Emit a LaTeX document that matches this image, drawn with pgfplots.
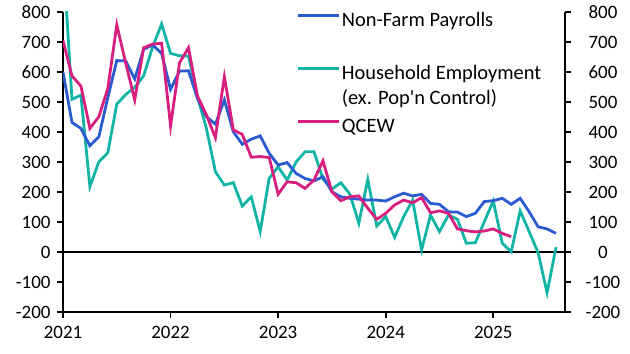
\documentclass[border=0pt]{standalone}
\usepackage{fontspec}
\setmainfont{Carlito}[Ligatures=TeXOff]
\usepackage{pgfplots}
\pgfplotsset{compat=1.18}
\usepackage{pgfplotstable}
\definecolor{nfp}{HTML}{2B5BD0}
\definecolor{hh}{HTML}{12B5A5}
\definecolor{qcew}{HTML}{D81E7E}

\pgfplotstableread{
m v
0 600
1 432
2 412
3 354
4 384
5 515
6 638
7 637
8 577
9 676
10 690
11 662
12 542
13 603
14 604
15 512
16 451
17 426
18 507
19 401
20 359
21 376
22 387
23 329
24 290
25 298
26 262
27 245
28 237
29 251
30 201
31 184
32 179
33 176
34 173
35 173
36 170
37 184
38 196
39 187
40 192
41 162
42 159
43 134
44 133
45 118
46 129
47 168
48 171
49 179
50 159
51 179
52 134
53 84
54 77
55 62
}\nfptab

\pgfplotstableread{
m v
0 1000
1 509
2 523
3 218
4 301
5 331
6 493
7 525
8 549
9 587
10 684
11 760
12 662
13 654
14 653
15 518
16 412
17 268
18 223
19 231
20 153
21 184
22 68
23 246
24 284
25 240
26 300
27 334
28 334
29 243
30 210
31 231
32 193
33 96
34 242
35 87
36 118
37 49
38 118
39 173
40 7
41 123
42 68
43 123
44 109
45 29
46 31
47 101
48 170
49 29
50 1
51 137
52 68
53 -2
54 -136
55 16
}\hhtab

\pgfplotstableread{
m v
0 705
1 587
2 553
3 412
4 451
5 545
6 757
7 629
8 507
9 681
10 693
11 696
12 420
13 631
14 681
15 520
16 457
17 381
18 584
19 407
20 392
21 316
22 318
23 315
24 193
25 234
26 231
27 212
28 240
29 304
30 201
31 171
32 184
33 187
34 146
35 109
36 129
37 157
38 173
39 164
40 181
41 131
42 137
43 129
44 77
45 71
46 67
47 70
48 77
49 62
50 51
}\qcewtab

\begin{document}
\begin{tikzpicture}[font=\fontsize{19}{23}\selectfont]
\path[use as bounding box] (-63bp,-42bp) rectangle (567bp,312bp);
\pgfplotsset{
  common/.style={
    at={(0,0)}, anchor=south west,
    scale only axis, width=502bp, height=300bp,
    xmin=0, xmax=56, ymin=-200, ymax=800,
    ytick={-200,-100,...,800},
    tick align=outside, major tick length=6bp,
    every tick/.style={black, line width=1.6bp},
    axis line style={black, line width=2bp},
    /pgf/number format/assume math mode=true,
    ticklabel style={font=\fontsize{19}{23}\selectfont},
  }
}
\begin{axis}[common,
  axis x line*=bottom, axis y line*=left,
  xtick={0,12,24,36,48},
  xticklabels={2021,2022,2023,2024,2025},
  xticklabel style={yshift=-5bp},
  yticklabel style={xshift=-3bp},
  legend cell align=left,
  legend style={draw=none, fill=none, at={(0.464,1)}, anchor=north west,
    inner sep=0pt, row sep=34bp, column sep=2bp,
    font=\fontsize{20.5}{25}\selectfont,
    nodes={inner sep=0pt, text height=14bp, text depth=5bp}},
  legend image code/.code={\draw[#1, line width=2.8bp] (0bp,6bp) -- (41bp,6bp);},
]
\addplot[black, line width=2.2bp, forget plot] coordinates {(0,0) (56,0)};
\addplot[hh, line width=2.8bp, forget plot] table[x=m, y=v] {\hhtab};
\addplot[nfp, line width=2.8bp] table[x=m, y=v] {\nfptab};
\addlegendentry{Non-Farm Payrolls}
\addlegendimage{hh, line width=2.8bp}
\addlegendentry{\begin{tabular}[t]{@{}l@{}}Household Employment\\[0bp](ex. Pop'n Control)\end{tabular}}
\addplot[qcew, line width=2.8bp] table[x=m, y=v] {\qcewtab};
\addlegendentry{QCEW}
\end{axis}
\begin{axis}[common,
  axis x line=none, axis y line*=right,
  yticklabel style={anchor=center, xshift=32bp},
]
\end{axis}
\end{tikzpicture}
\end{document}
